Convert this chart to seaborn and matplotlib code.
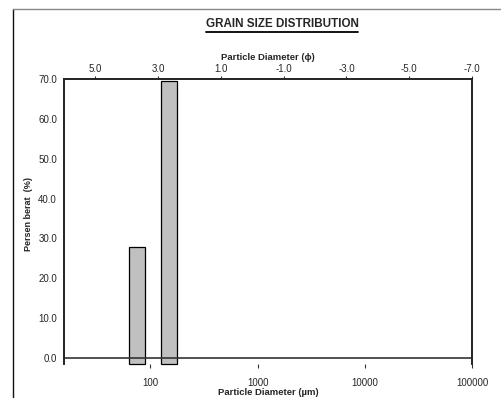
import numpy as np
import pandas as pd
import matplotlib
matplotlib.use("Agg")
import matplotlib.pyplot as plt
from matplotlib.lines import Line2D
import seaborn as sns

# === data: sieve classes (um) and weight percent ===
size_lo = [62.5, 125.0]
size_hi = [88.4, 176.8]
persen_berat = [27.8, 69.6]

phi_ticks = [5.0, 3.0, 1.0, -1.0, -3.0, -5.0, -7.0]
um_ticks = [100, 1000, 10000, 100000]
y_ticks = [0, 10, 20, 30, 40, 50, 60, 70]

sns.set_style("white")
plt.rcParams["font.family"] = ["Liberation Sans", "DejaVu Sans"]
plt.rcParams["font.size"] = 7

W, H = 501, 398
fig = plt.figure(figsize=(W / 100, H / 100), dpi=100)
ax = fig.add_axes([64 / W, 1 - 364 / H, (472 - 64) / W, (364 - 79) / H])

# bars on log um axis
df = pd.DataFrame({"size": size_lo, "persen": persen_berat})
edges = [float(v) for v in np.log10(sorted(size_lo + size_hi))]
sns.histplot(data=df, x="size", weights="persen", bins=edges, log_scale=True,
             color="#c0c0c0", edgecolor="black", linewidth=0.9, alpha=1,
             ax=ax)
for p in list(ax.patches):
    if p.get_height() == 0:
        p.remove()
    else:
        p.set_y(-1.5)
        p.set_height(p.get_height() + 1.5)
        p.set_clip_on(False)

ax.set_xlim(15.6, 100000)
ax.set_ylim(-1.5, 70)
ax.axhline(0, color="#333333", lw=1.2, zorder=1)

ax.set_yticks(y_ticks)
ax.set_yticklabels([f"{v:.1f}" for v in y_ticks])
ax.set_xticks(um_ticks)
ax.set_xticklabels([str(v) for v in um_ticks])
ax.xaxis.set_minor_locator(plt.NullLocator())
ax.tick_params(axis="both", which="major", direction="out", length=3,
               width=0.8, color="#333333", labelsize=7)
ax.tick_params(axis="x", pad=7)
ax.tick_params(axis="y", pad=2)
ax.set_ylabel("Persen berat  (%)", fontweight="bold", fontsize=6.5)
ax.yaxis.set_label_coords(-0.076, 0.526)
ax.set_xlabel("Particle Diameter (\u00b5m)", fontweight="bold", fontsize=6.8,
              labelpad=0)

for side in ["left", "top", "right"]:
    ax.spines[side].set_color("#222222")
    ax.spines[side].set_linewidth(1.2)
ax.spines["bottom"].set_visible(False)

# top axis in phi units
ax2 = ax.twiny()
ax2.set_xlim(6, -7)
ax2.set_xticks(phi_ticks)
ax2.set_xticklabels([f"{v:.1f}" for v in phi_ticks])
ax2.tick_params(axis="x", direction="out", length=2.5, width=0.8,
                color="#333333", labelsize=7, pad=1)
ax2.set_xlabel("Particle Diameter (\u03d5)", fontweight="bold", fontsize=6.8,
               labelpad=3)
ax2.spines["bottom"].set_visible(False)
for side in ["left", "top", "right"]:
    ax2.spines[side].set_color("#222222")
    ax2.spines[side].set_linewidth(1.2)

# title with underline
title = fig.text(282 / W, 1 - 24 / H, "GRAIN SIZE DISTRIBUTION",
                 ha="center", va="center", fontweight="bold", fontsize=8.4)
fig.canvas.draw()
bb = title.get_window_extent().transformed(fig.transFigure.inverted())
fig.add_artist(Line2D([bb.x0, bb.x1], [bb.y0 - 0.004, bb.y0 - 0.004],
                      color="black", lw=1.3))

# outer chart frame
fig.add_artist(Line2D([13 / W, 13 / W], [0, 1 - 9 / H], color="#111111", lw=1))
fig.add_artist(Line2D([13 / W, 1], [1 - 9 / H, 1 - 9 / H], color="#888888", lw=1))

fig.savefig("out.png", dpi=100)
